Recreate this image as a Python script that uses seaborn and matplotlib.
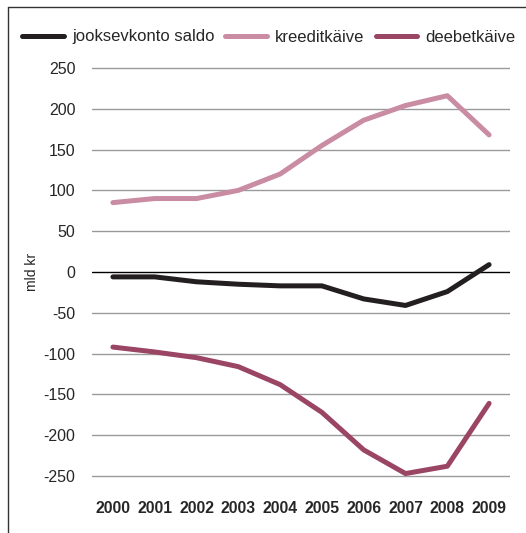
import pandas as pd
import numpy as np
import seaborn as sns
import matplotlib.pyplot as plt
from matplotlib.lines import Line2D

# **Data**
years = [2000, 2001, 2002, 2003, 2004, 2005, 2006, 2007, 2008, 2009]
saldo = [-6, -6, -12, -15, -17, -17, -33, -41, -24, 9]
kreedit = [85, 90, 90, 100, 120, 155, 186, 204, 216, 168]
deebet = [-92, -98, -105, -116, -138, -172, -218, -247, -238, -161]
series_names = ["jooksevkonto saldo", "kreeditkäive", "deebetkäive"]
colors = ["#231f20", "#c98ca3", "#9b4565"]

df = pd.DataFrame({
    "aasta": years * 3,
    "mld kr": saldo + kreedit + deebet,
    "seeria": [series_names[0]] * 10 + [series_names[1]] * 10 + [series_names[2]] * 10,
})

sns.set_style("white")
plt.rcParams['font.family'] = ['Liberation Sans', 'DejaVu Sans']

fig = plt.figure(figsize=(5.26, 5.33), dpi=100)
ax = fig.add_axes([0.1749, 0.0763, 0.7947, 0.8115])

# grid lines
for v in range(-250, 251, 50):
    ax.axhline(v, color="black" if v == 0 else "#9a9a9a", lw=1, zorder=1)

sns.lineplot(data=df, x="aasta", y="mld kr", hue="seeria", palette=colors,
             hue_order=series_names, lw=3.6, ax=ax, legend=False, zorder=3)

ax.set_xlim(1999.5, 2009.5)
ax.set_ylim(-270, 260)
ax.set_xticks(years)
ax.set_xticklabels([str(y) for y in years], fontweight="bold", fontsize=11.3)
ax.set_yticks(range(-250, 251, 50))
ax.set_yticklabels([str(v) for v in range(-250, 251, 50)], fontsize=11.5)
ax.tick_params(axis="y", length=0, pad=12)
ax.tick_params(axis="x", length=0, pad=6)
ax.set_xlabel("")
ax.set_ylabel("mld kr", fontsize=10)
ax.yaxis.set_label_coords((39 - 92) / 418, (533 - 272 - 0.0763 * 533) / (0.8115 * 533))
for s in ax.spines.values():
    s.set_visible(False)

handles = [Line2D([0], [0], color=c, lw=3.6) for c in colors]
fig.legend(handles, series_names, loc="center left", bbox_to_anchor=(22 / 526, 1 - 37 / 533),
           ncol=3, frameon=False, fontsize=12, handlelength=2.5, handletextpad=0.5,
           columnspacing=0.65, borderpad=0, borderaxespad=0)

# frame: top and left border
fig.add_artist(Line2D([8 / 526, 1], [1 - 7 / 533, 1 - 7 / 533], color="#333333", lw=1))
fig.add_artist(Line2D([8 / 526, 8 / 526], [0, 1 - 7 / 533], color="#333333", lw=1))

fig.savefig("out.png", dpi=100)
